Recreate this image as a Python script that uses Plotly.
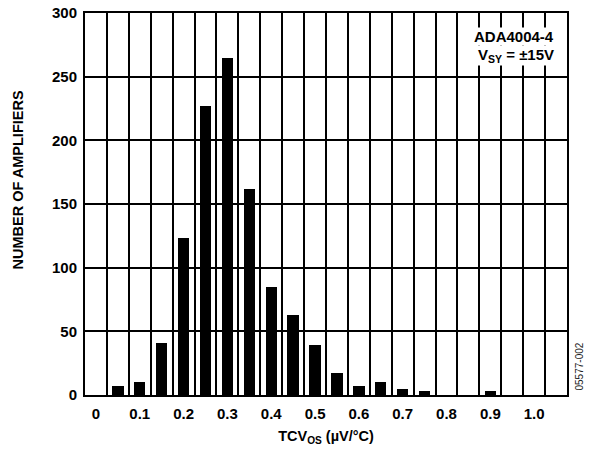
import plotly.graph_objects as go

bin_centers = [0.05, 0.10, 0.15, 0.20, 0.25, 0.30, 0.35, 0.40, 0.45, 0.50,
               0.55, 0.60, 0.65, 0.70, 0.75, 0.80, 0.85, 0.90, 0.95, 1.00]
amplifiers = [7, 10, 41, 123, 227, 265, 162, 85, 63, 39,
              17, 7, 10, 5, 3, 0, 0, 3, 0, 0]
x_tick_vals = [0, 0.1, 0.2, 0.3, 0.4, 0.5, 0.6, 0.7, 0.8, 0.9, 1.0]
x_tick_text = ["0", "0.1", "0.2", "0.3", "0.4", "0.5", "0.6", "0.7", "0.8", "0.9", "1.0"]
y_tick_vals = [0, 50, 100, 150, 200, 250, 300]

FONT = "Arial, Liberation Sans, sans-serif"

fig = go.Figure()
fig.add_trace(go.Bar(x=bin_centers, y=amplifiers, width=0.026,
                     marker=dict(color="black", line=dict(width=0))))

fig.update_layout(
    width=589, height=452,
    margin=dict(l=85, r=22, t=13, b=57),
    plot_bgcolor="white", paper_bgcolor="white",
    showlegend=False,
    font=dict(family=FONT, color="black"),
    xaxis=dict(
        range=[-0.025, 1.075], automargin=False,
        tickvals=x_tick_vals, ticktext=x_tick_text,
        showgrid=False, zeroline=False,
        ticks="", ticklabelstandoff=4,
        tickfont=dict(size=15, weight="bold", family=FONT),
        showline=True, linecolor="black", linewidth=2, mirror=True,
        minor=dict(tick0=0.025, dtick=0.05, showgrid=True,
                   gridcolor="black", gridwidth=1.5, ticks=""),
        title=dict(text="TCV<sub>OS</sub> (µV/°C)",
                   font=dict(size=14.5, weight="bold", family=FONT), standoff=10),
    ),
    yaxis=dict(
        range=[0, 300], automargin=False,
        tickvals=y_tick_vals,
        showgrid=True, gridcolor="black", gridwidth=1.5, zeroline=False,
        ticks="", ticklabelstandoff=3,
        tickfont=dict(size=15, weight="bold", family=FONT),
        showline=True, linecolor="black", linewidth=2, mirror=True,
    ),
    bargap=0,
)

fig.add_annotation(xref="paper", yref="paper", x=-0.139, y=0.5615,
                   xanchor="center", yanchor="middle", showarrow=False,
                   text="NUMBER OF AMPLIFIERS", textangle=-90,
                   font=dict(size=14.5, weight="bold", family=FONT))
fig.add_annotation(xref="paper", yref="paper", x=0.976, y=0.938,
                   xanchor="right", yanchor="middle", showarrow=False,
                   text="ADA4004-4", bgcolor="white", borderpad=0,
                   font=dict(size=15, weight="bold", family=FONT))
fig.add_annotation(xref="paper", yref="paper", x=0.976, y=0.888,
                   xanchor="right", yanchor="middle", showarrow=False,
                   text="V<sub>SY</sub> = ±15V", bgcolor="white", borderpad=0,
                   font=dict(size=15, weight="bold", family=FONT))
fig.add_annotation(xref="paper", yref="paper", x=1.0, y=0.0,
                   xanchor="left", yanchor="bottom", xshift=4, yshift=2,
                   showarrow=False,
                   text="05577-002", textangle=-90,
                   font=dict(size=10, family=FONT, color="#222222"))

fig.write_html("out.html", config={"displayModeBar": False},
               post_script="document.body.style.margin='0';")
